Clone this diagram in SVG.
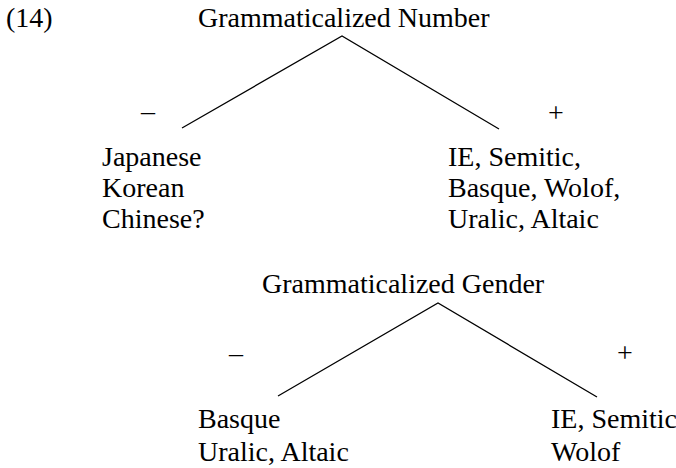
<svg xmlns="http://www.w3.org/2000/svg" width="676" height="468" viewBox="0 0 676 468">
<defs>
<style>
.t{font-family:'Liberation Serif',serif;font-size:28px;fill:#000}
.e{stroke:#000;stroke-width:1.3;fill:none}
</style>
</defs>
<rect width="676" height="468" fill="#fff"/>
<text class="t" id="ex" x="6" y="27">(14)</text>
<g id="num"><text class="t" x="198" y="27">Grammaticalized Number</text></g>
<g id="num-minus"><text class="t" x="141" y="120">&#8211;</text></g>
<g id="num-plus"><text class="t" x="548" y="122">+</text></g>
<g id="num-neg"><text class="t" x="102" y="166">Japanese</text><text class="t" x="102" y="197">Korean</text><text class="t" x="102" y="228">Chinese?</text></g>
<g id="num-pos"><text class="t" x="448" y="166">IE, Semitic,</text><text class="t" x="448" y="197">Basque, Wolof,</text><text class="t" x="448" y="228">Uralic, Altaic</text></g>
<g id="gen"><text class="t" x="262" y="293">Grammaticalized Gender</text></g>
<g id="gen-minus"><text class="t" x="229" y="362">&#8211;</text></g>
<g id="gen-plus"><text class="t" x="617" y="362">+</text></g>
<g id="gen-neg"><text class="t" x="198" y="428">Basque</text><text class="t" x="198" y="461">Uralic, Altaic</text></g>
<g id="gen-pos"><text class="t" x="551" y="428">IE, Semitic</text><text class="t" x="551" y="461">Wolof</text></g>
<g id="connectors">
<polyline class="e" points="182,128 342,36 499,129"/>
<polyline class="e" points="278,396 438,303 597,397"/>
</g>
</svg>
